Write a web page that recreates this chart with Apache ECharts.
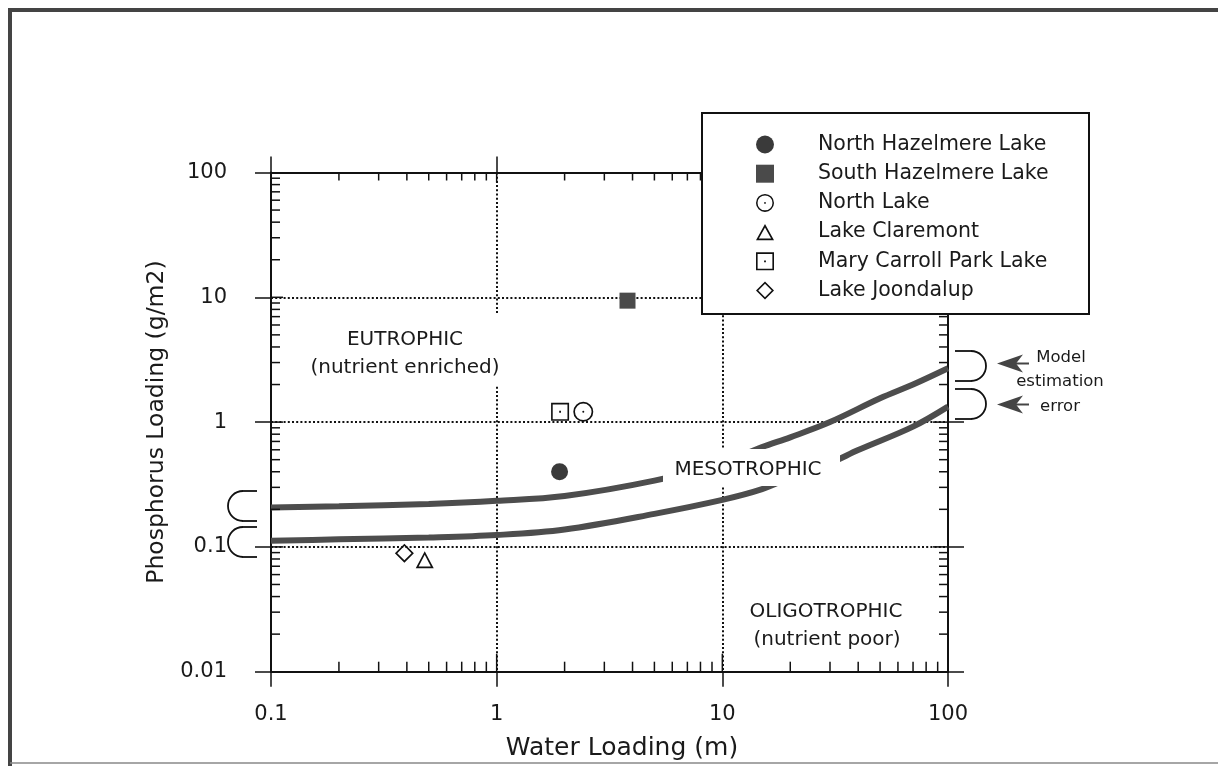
<!DOCTYPE html>
<html>
<head>
<meta charset="utf-8">
<title>Phosphorus loading vs water loading</title>
<script src="https://cdn.jsdelivr.net/npm/echarts@6/dist/echarts.min.js"></script>
<style>
  html, body { margin: 0; padding: 0; background: #fff; }
  #chart { width: 1218px; height: 766px; }
</style>
</head>
<body>
<div id="chart"></div>
<script>
// 湖泊数据 (water loading m, phosphorus loading g/m2)
var lakeNames = ['North Hazelmere Lake', 'South Hazelmere Lake', 'North Lake', 'Lake Claremont', 'Mary Carroll Park Lake', 'Lake Joondalup'];
var lakeWater = [1.9, 3.8, 2.42, 0.48, 1.91, 0.39];
var lakePhos = [0.40, 9.4, 1.21, 0.079, 1.21, 0.089];

// 模型曲线 (上 / 下)
var upperWater = [0.1, 0.2, 0.5, 1, 2, 5, 10, 15, 20, 30, 50, 70, 100];
var upperPhos = [0.207, 0.212, 0.221, 0.234, 0.256, 0.34, 0.47, 0.63, 0.755, 1.0, 1.55, 2.0, 2.7];
var lowerWater = [0.1, 0.2, 0.5, 1, 2, 5, 10, 15, 20, 30, 40, 70, 100];
var lowerPhos = [0.112, 0.115, 0.119, 0.1245, 0.138, 0.184, 0.238, 0.29, 0.36, 0.47, 0.597, 0.92, 1.33];

// 刻度
var xMin = 0.1, xMax = 100, yMin = 0.01, yMax = 100;
var xInnerMajor = [1, 10];
var yInnerMajor = [0.1, 1, 10];
var xMinor = [0.2, 0.3, 0.4, 0.5, 0.6, 0.7, 0.8, 0.9, 2, 3, 4, 5, 6, 7, 8, 9, 20, 30, 40, 50, 60, 70, 80, 90];
var yMinor = [0.02, 0.03, 0.04, 0.05, 0.06, 0.07, 0.08, 0.09, 0.2, 0.3, 0.4, 0.5, 0.6, 0.7, 0.8, 0.9,
  2, 3, 4, 5, 6, 7, 8, 9, 20, 30, 40, 50, 60, 70, 80, 90];

var FONT = 'DejaVu Sans';
var INK = '#1a1a1a';

// 符号
var ringDot = 'path://M0 -10 A10 10 0 1 1 0 10 A10 10 0 1 1 0 -10 Z M0 -8.3 A8.3 8.3 0 1 0 0 8.3 A8.3 8.3 0 1 0 0 -8.3 Z M0 -1 A1 1 0 1 1 0 1 A1 1 0 1 1 0 -1 Z';
var boxDot = 'path://M-10 -10 L10 -10 L10 10 L-10 10 Z M-8.2 -8.2 L-8.2 8.2 L8.2 8.2 L8.2 -8.2 Z M-1 -1 L1 -1 L1 1 L-1 1 Z';
var triOpen = 'path://M0 -10 L10 8 L-10 8 Z M0 -6.1 L-6.8 6.1 L6.8 6.1 Z';
var diaOpen = 'path://M0 -10 L10 0 L0 10 L-10 0 Z M0 -7.5 L-7.5 0 L0 7.5 L7.5 0 Z';
var lakeSymbols = ['circle', 'rect', ringDot, triOpen, boxDot, diaOpen];
var lakeSizes = [17, 16, 20, [18, 17], 18, 19];
var lakeColors = ['#3a3a3a', '#4a4a4a', '#111', '#111', '#111', '#111'];

var chart = echarts.init(document.getElementById('chart'));

function tickLine(x1, y1, x2, y2) {
  return { type: 'line', shape: { x1: x1, y1: y1, x2: x2, y2: y2 }, style: { stroke: '#111', lineWidth: 1.5 } };
}

var series = [];

series.push({
  name: 'upper', type: 'line', silent: true, z: 3,
  data: upperWater.map(function (x, i) { return [x, upperPhos[i]]; }),
  smooth: 0.35, showSymbol: false,
  lineStyle: { width: 6, color: '#4d4d4d' }
});
series.push({
  name: 'lower', type: 'line', silent: true, z: 3,
  data: lowerWater.map(function (x, i) { return [x, lowerPhos[i]]; }),
  smooth: 0.35, showSymbol: false,
  lineStyle: { width: 6, color: '#4d4d4d' }
});

lakeNames.forEach(function (name, i) {
  series.push({
    name: name, type: 'scatter', z: 5,
    data: [[lakeWater[i], lakePhos[i]]],
    symbol: lakeSymbols[i], symbolSize: lakeSizes[i],
    itemStyle: { color: lakeColors[i], opacity: 1 }
  });
});

// 次刻度 / 内侧主刻度
series.push({
  type: 'custom', silent: true, z: 4,
  data: xMinor.map(function (v) { return [v, yMin]; }),
  renderItem: function (p, api) {
    var b = api.coord([api.value(0), yMin]);
    var t = api.coord([api.value(0), yMax]);
    return { type: 'group', children: [tickLine(b[0], b[1], b[0], b[1] - 10), tickLine(t[0], t[1], t[0], t[1] + 8)] };
  }
});
series.push({
  type: 'custom', silent: true, z: 4,
  data: yMinor.map(function (v) { return [xMin, v]; }),
  renderItem: function (p, api) {
    var l = api.coord([xMin, api.value(1)]);
    var r = api.coord([xMax, api.value(1)]);
    return { type: 'group', children: [tickLine(l[0], l[1], l[0] + 9, l[1]), tickLine(r[0], r[1], r[0] - 9, r[1])] };
  }
});
series.push({
  type: 'custom', silent: true, z: 4,
  data: xInnerMajor.map(function (v) { return [v, yMin]; }),
  renderItem: function (p, api) {
    var b = api.coord([api.value(0), yMin]);
    var t = api.coord([api.value(0), yMax]);
    return { type: 'group', children: [tickLine(b[0], b[1], b[0], b[1] - 18), tickLine(t[0], t[1], t[0], t[1] + 10)] };
  }
});
series.push({
  type: 'custom', silent: true, z: 4,
  data: yInnerMajor.map(function (v) { return [xMin, v]; }),
  renderItem: function (p, api) {
    var l = api.coord([xMin, api.value(1)]);
    var r = api.coord([xMax, api.value(1)]);
    return { type: 'group', children: [tickLine(l[0], l[1], l[0] + 12, l[1]), tickLine(r[0], r[1], r[0] - 15, r[1])] };
  }
});

function logLabel(v) { return String(Number(Number(v).toPrecision(3))); }

var axisLine = { show: true, lineStyle: { color: '#111', width: 2 } };
var dotted = { show: true, showMinLine: false, showMaxLine: false, lineStyle: { color: '#111', width: 2, type: [2, 2.2] } };

function txt(x, y, s, size) {
  return { type: 'text', x: x, y: y, z: 60, style: { text: s, fill: INK, font: (size || 20) + 'px "' + FONT + '"', align: 'center', verticalAlign: 'middle' } };
}
function whiteBox(x, y, w, h) {
  return { type: 'rect', z: 55, shape: { x: x, y: y, width: w, height: h }, style: { fill: '#fff', stroke: null } };
}
function hline(x1, x2, y) {
  return { type: 'line', z: 60, shape: { x1: x1, y1: y, x2: x2, y2: y }, style: { stroke: '#111', lineWidth: 1.8 } };
}
function leftBracket(cy) {
  return [hline(243, 257, cy - 15), hline(243, 257, cy + 15),
    { type: 'arc', z: 60, shape: { cx: 243, cy: cy, r: 15, startAngle: Math.PI / 2, endAngle: Math.PI * 1.5, clockwise: true }, style: { stroke: '#111', lineWidth: 1.8, fill: null } }];
}
function rightBracket(cy) {
  return [hline(955, 971, cy - 15), hline(955, 971, cy + 15),
    { type: 'arc', z: 60, shape: { cx: 971, cy: cy, r: 15, startAngle: -Math.PI / 2, endAngle: Math.PI / 2, clockwise: true }, style: { stroke: '#111', lineWidth: 1.8, fill: null } }];
}
function arrow(cy) {
  return [
    { type: 'polygon', z: 60, shape: { points: [[997, cy], [1023, cy - 9], [1016, cy], [1023, cy + 9]] }, style: { fill: '#444' } },
    { type: 'line', z: 60, shape: { x1: 1012, y1: cy, x2: 1029, y2: cy }, style: { stroke: '#444', lineWidth: 2 } }
  ];
}

var elements = [
  // 页面边框
  { type: 'line', z: 1, shape: { x1: 10, y1: 9, x2: 10, y2: 766 }, style: { stroke: '#444', lineWidth: 4 } },
  { type: 'line', z: 1, shape: { x1: 8, y1: 10, x2: 1218, y2: 10 }, style: { stroke: '#444', lineWidth: 4 } },
  { type: 'line', z: 1, shape: { x1: 10, y1: 763, x2: 1218, y2: 763 }, style: { stroke: '#888', lineWidth: 1.5 } },
  // 图例框
  { type: 'rect', z: 100, shape: { x: 702, y: 113, width: 387, height: 201 }, style: { fill: '#fff', stroke: '#111', lineWidth: 2 } },
  // 区域文字
  whiteBox(300, 313, 215, 72),
  txt(405, 340, 'EUTROPHIC'),
  txt(405, 368, '(nutrient enriched)'),
  whiteBox(663, 449, 177, 37),
  txt(748, 470, 'MESOTROPHIC'),
  txt(826, 612, 'OLIGOTROPHIC'),
  txt(827, 640, '(nutrient poor)'),
  txt(1061, 358, 'Model', 16.5),
  txt(1060, 382, 'estimation', 16.5),
  txt(1060, 407, 'error', 16.5)
].concat(leftBracket(506), leftBracket(542), rightBracket(366), rightBracket(404), arrow(363.5), arrow(404.5));

chart.setOption({
  backgroundColor: '#fff',
  animation: false,
  textStyle: { fontFamily: FONT },
  grid: { left: 271, right: 270, top: 172.5, bottom: 94.3 },
  legend: {
    data: lakeNames, orient: 'vertical', left: 756, top: 134, padding: 0,
    itemWidth: 18, itemHeight: 18, itemGap: 8.2, selectedMode: false, z: 110,
    textStyle: { fontFamily: FONT, fontSize: 20.5, color: INK, padding: [0, 0, 0, 39] }
  },
  xAxis: [{
    type: 'log', logBase: 10, min: xMin, max: xMax, position: 'bottom',
    name: 'Water Loading (m)', nameLocation: 'middle', nameGap: 64,
    nameTextStyle: { fontFamily: FONT, fontSize: 25, color: INK, padding: [0, 0, 0, 25] },
    axisLine: axisLine,
    axisTick: { show: true, length: 15, lineStyle: { color: '#111', width: 1.5 } },
    axisLabel: { fontFamily: FONT, fontSize: 21, color: INK, margin: 32, formatter: logLabel, showMinLabel: true, showMaxLabel: true },
    splitLine: dotted
  }, {
    type: 'log', logBase: 10, min: xMin, max: xMax, position: 'top',
    axisLine: axisLine,
    axisTick: { show: true, length: 16, lineStyle: { color: '#111', width: 1.5 } },
    axisLabel: { show: false }, splitLine: { show: false }
  }],
  yAxis: [{
    type: 'log', logBase: 10, min: yMin, max: yMax, position: 'left',
    name: 'Phosphorus Loading (g/m2)', nameLocation: 'middle', nameGap: 97,
    nameTextStyle: { fontFamily: FONT, fontSize: 23.5, color: INK },
    axisLine: axisLine,
    axisTick: { show: true, length: 16, lineStyle: { color: '#111', width: 1.5 } },
    axisLabel: { fontFamily: FONT, fontSize: 21, color: INK, margin: 44, formatter: logLabel, showMinLabel: true, showMaxLabel: true },
    splitLine: dotted
  }, {
    type: 'log', logBase: 10, min: yMin, max: yMax, position: 'right',
    axisLine: axisLine,
    axisTick: { show: true, length: 16, lineStyle: { color: '#111', width: 1.5 } },
    axisLabel: { show: false }, splitLine: { show: false }
  }],
  graphic: { elements: elements },
  series: series
});
</script>
</body>
</html>
